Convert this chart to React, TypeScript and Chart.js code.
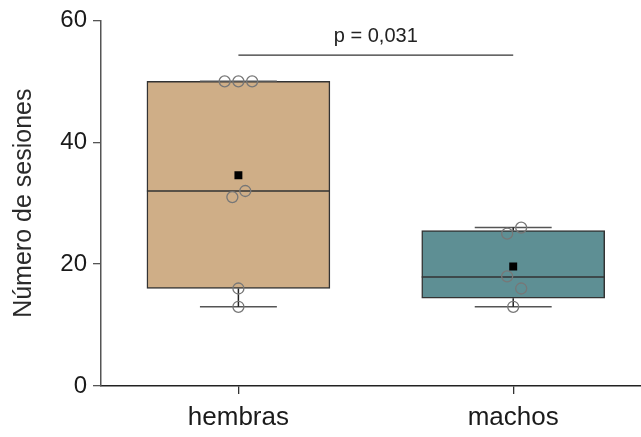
import React, { useEffect, useRef } from 'react';
import { Chart, registerables } from 'chart.js';
Chart.register(...registerables);

const categories = ['hembras', 'machos'];
const positions = [1, 2];
const hembrasPoints = [50, 50, 50, 32, 31, 16, 13];
const hembrasJitter = [-0.05, 0, 0.05, 0.025, -0.022, 0, 0];
const machosPoints = [26, 25, 18, 16, 13];
const machosJitter = [0.029, -0.022, -0.022, 0.029, 0];
const q1 = [16, 14.4];
const median = [32, 17.9];
const q3 = [50, 25.5];
const whiskerLow = [13, 13];
const whiskerHigh = [50, 26];
const means = [34.6, 19.6];
const boxColors = ['#CFAE87', '#5E8F94'];
const yTicks = [0, 20, 40, 60];
const pValueLabel = 'p = 0,031';
const pValueY = 54.3;

const BOX_HALF = 0.333;
const CAP_HALF = 0.14;
const FONT = '"Liberation Sans", Arial, Helvetica, sans-serif';

type Seg = [number, number, number, number];
function segs(list: Seg[]) {
  const out: { x: number; y: number | null }[] = [];
  list.forEach(([x1, y1, x2, y2]) => {
    out.push({ x: x1, y: y1 }, { x: x2, y: y2 }, { x: x2, y: null });
  });
  return out;
}

const pLabelPlugin = {
  id: 'pLabel',
  afterDatasetsDraw(chart: any) {
    const { ctx, scales } = chart;
    const x = scales.x;
    const y = scales.y;
    ctx.save();
    ctx.font = `20px ${FONT}`;
    ctx.fillStyle = '#222';
    ctx.textAlign = 'center';
    ctx.textBaseline = 'alphabetic';
    ctx.fillText(pValueLabel, x.getPixelForValue((positions[0] + positions[1]) / 2), y.getPixelForValue(pValueY) - 13);
    ctx.restore();
  },
};

export default function App() {
  const ref = useRef<HTMLCanvasElement | null>(null);
  useEffect(() => {
    if (!ref.current) return;
    Chart.defaults.font.family = FONT;
    const lineBase = {
      type: 'line' as const,
      pointRadius: 0,
      pointHoverRadius: 0,
      showLine: true,
      spanGaps: false,
      fill: false,
      tension: 0,
    };
    const pointBase = {
      type: 'scatter' as const,
      pointStyle: 'circle',
      pointRadius: 5.5,
      backgroundColor: 'rgba(0,0,0,0)',
      borderColor: '#777',
      borderWidth: 1.3,
      order: 2,
    };
    const chart = new Chart(ref.current, {
      type: 'bar',
      data: {
        datasets: [
          {
            type: 'bar',
            data: positions.map((x, i) => ({ x, y: [q1[i], q3[i]] })) as any,
            backgroundColor: boxColors,
            borderColor: '#333',
            borderWidth: 1.5,
            borderSkipped: false,
            barThickness: 183,
            grouped: false,
            order: 10,
          } as any,
          {
            ...lineBase,
            data: segs(positions.map((p, i) => [p - BOX_HALF, median[i], p + BOX_HALF, median[i]] as Seg)),
            borderColor: '#333',
            borderWidth: 1.5,
            order: 5,
          } as any,
          {
            ...lineBase,
            data: segs(
              positions.flatMap((p, i) => [
                [p, q1[i], p, whiskerLow[i]] as Seg,
                [p, q3[i], p, whiskerHigh[i]] as Seg,
              ])
            ),
            borderColor: '#222',
            borderWidth: 1.5,
            order: 5,
          } as any,
          {
            ...lineBase,
            data: segs(
              positions.flatMap((p, i) => [
                [p - CAP_HALF, whiskerLow[i], p + CAP_HALF, whiskerLow[i]] as Seg,
                [p - CAP_HALF, whiskerHigh[i], p + CAP_HALF, whiskerHigh[i]] as Seg,
              ])
            ),
            borderColor: '#555',
            borderWidth: 1.5,
            order: 5,
          } as any,
          {
            ...lineBase,
            data: segs([[positions[0], pValueY, positions[1], pValueY]]),
            borderColor: '#333',
            borderWidth: 1.3,
            order: 5,
          } as any,
          {
            ...pointBase,
            data: hembrasPoints.map((v, i) => ({ x: positions[0] + hembrasJitter[i], y: v })),
          } as any,
          {
            ...pointBase,
            data: machosPoints.map((v, i) => ({ x: positions[1] + machosJitter[i], y: v })),
          } as any,
          {
            type: 'scatter',
            data: positions.map((p, i) => ({ x: p, y: means[i] })),
            pointStyle: 'rect',
            pointRadius: 5.6,
            backgroundColor: '#000',
            borderColor: '#000',
            borderWidth: 0,
            order: 1,
          } as any,
        ],
      },
      options: {
        animation: false,
        responsive: false,
        layout: { autoPadding: false, padding: { top: 20, right: 0, left: 0, bottom: 0 } },
        plugins: { legend: { display: false }, tooltip: { enabled: false } },
        scales: {
          x: {
            type: 'linear',
            offset: false,
            min: 0.5,
            max: 2.465,
            afterBuildTicks: (s: any) => {
              s.ticks = positions.map((v) => ({ value: v }));
            },
            afterFit: (s: any) => {
              s.height = 51;
              s.paddingLeft = 0;
              s.paddingRight = 0;
            },
            ticks: {
              callback: (v: any) => {
                const i = positions.indexOf(Number(v));
                return i >= 0 ? categories[i] : '';
              },
              font: { size: 26 },
              color: '#1a1a1a',
              padding: 8,
              maxRotation: 0,
              autoSkip: false,
            },
            grid: { offset: false, drawOnChartArea: false, drawTicks: true, tickLength: 8, color: '#333', lineWidth: 1.3 },
            border: { color: '#222', width: 1.5 },
          },
          y: {
            type: 'linear',
            min: 0,
            max: 60,
            afterBuildTicks: (s: any) => {
              s.ticks = yTicks.map((v) => ({ value: v }));
            },
            afterFit: (s: any) => {
              s.width = 101;
            },
            ticks: { font: { size: 24 }, color: '#1a1a1a', padding: 6 },
            grid: { drawOnChartArea: false, drawTicks: true, tickLength: 8, color: '#555', lineWidth: 1.3 },
            border: { color: '#555', width: 1.5 },
            title: {
              display: true,
              text: 'Número de sesiones',
              font: { size: 25 },
              color: '#2a2a2a',
              padding: { top: 9, bottom: 0 },
            },
          },
        },
      },
      plugins: [pLabelPlugin],
    });
    return () => chart.destroy();
  }, []);
  return (
    <div style={{ position: 'absolute', left: 0, top: 0, width: 641, height: 437 }}>
      <canvas ref={ref} width={641} height={437} />
    </div>
  );
}
